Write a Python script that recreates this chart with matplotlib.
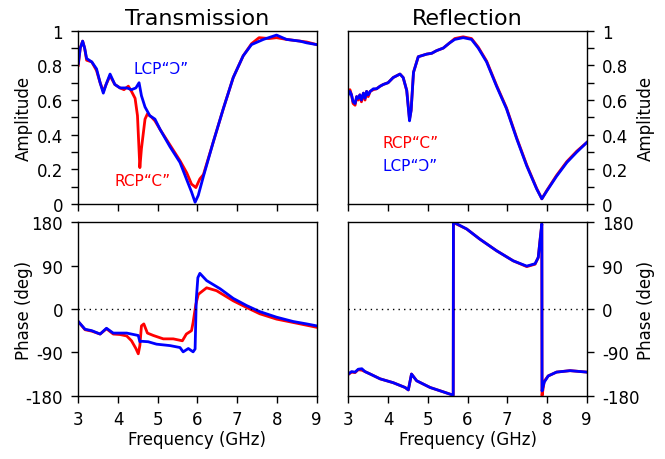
import numpy as np
import matplotlib
matplotlib.use("Agg")
import matplotlib.pyplot as plt
from matplotlib.ticker import MultipleLocator

plt.rcParams['axes.unicode_minus'] = False

# transmission amplitude (GHz, value)
t_amp_f_lcp = [3.0, 3.05, 3.11, 3.16, 3.21, 3.34, 3.46, 3.55, 3.63, 3.7, 3.8, 3.92, 4.05, 4.22, 4.34,
               4.45, 4.53, 4.59, 4.68, 4.8, 4.93, 5.06, 5.31, 5.56, 5.73, 5.85, 5.94, 6.02, 6.15, 6.4,
               6.65, 6.9, 7.15, 7.36, 7.66, 7.99, 8.24, 8.58, 8.75, 9.0]
t_amp_lcp = [0.81, 0.9, 0.94, 0.9, 0.84, 0.82, 0.78, 0.7, 0.64, 0.69, 0.75, 0.69, 0.67, 0.67, 0.66,
             0.67, 0.7, 0.625, 0.56, 0.51, 0.49, 0.43, 0.33, 0.24, 0.14, 0.07, 0.01, 0.05, 0.16, 0.36,
             0.55, 0.73, 0.855, 0.92, 0.95, 0.975, 0.95, 0.94, 0.93, 0.92]
t_amp_f_rcp = [3.0, 3.05, 3.11, 3.16, 3.21, 3.34, 3.46, 3.55, 3.63, 3.7, 3.8, 3.92, 4.05, 4.15, 4.26,
               4.34, 4.43, 4.49, 4.55, 4.59, 4.68, 4.74, 4.85, 4.93, 5.06, 5.31, 5.56, 5.73, 5.85,
               5.96, 6.06, 6.15, 6.4, 6.65, 6.9, 7.15, 7.36, 7.55, 7.8, 7.99, 8.24, 8.58, 8.75, 9.0]
t_amp_rcp = [0.8, 0.9, 0.94, 0.9, 0.83, 0.82, 0.77, 0.7, 0.65, 0.69, 0.74, 0.69, 0.67, 0.66, 0.68,
             0.65, 0.61, 0.51, 0.21, 0.32, 0.49, 0.52, 0.5, 0.48, 0.43, 0.34, 0.25, 0.18, 0.115,
             0.095, 0.145, 0.17, 0.36, 0.55, 0.73, 0.855, 0.925, 0.96, 0.955, 0.96, 0.95, 0.94, 0.935, 0.92]

# reflection amplitude
r_amp_f = [3.0, 3.04, 3.08, 3.12, 3.17, 3.21, 3.25, 3.29, 3.33, 3.38, 3.42, 3.46, 3.5, 3.55, 3.63,
           3.71, 3.8, 3.88, 4.0, 4.13, 4.3, 4.38, 4.47, 4.54, 4.58, 4.64, 4.76, 4.97, 5.1, 5.22,
           5.39, 5.55, 5.68, 5.89, 6.1, 6.27, 6.48, 6.73, 6.98, 7.24, 7.49, 7.74, 7.87, 8.0, 8.24,
           8.5, 8.75, 9.0]
r_amp_rcp = [0.64, 0.66, 0.63, 0.58, 0.57, 0.62, 0.6, 0.63, 0.59, 0.64, 0.6, 0.65, 0.62, 0.65, 0.66,
             0.665, 0.68, 0.69, 0.7, 0.73, 0.75, 0.73, 0.655, 0.49, 0.54, 0.76, 0.85, 0.865, 0.87,
             0.885, 0.9, 0.93, 0.955, 0.965, 0.955, 0.905, 0.825, 0.685, 0.555, 0.38, 0.225, 0.09,
             0.03, 0.08, 0.165, 0.245, 0.305, 0.355]
r_amp_lcp = [0.63, 0.65, 0.63, 0.59, 0.58, 0.62, 0.61, 0.63, 0.6, 0.64, 0.61, 0.65, 0.63, 0.65, 0.665,
             0.665, 0.68, 0.69, 0.7, 0.73, 0.75, 0.73, 0.655, 0.48, 0.54, 0.76, 0.85, 0.865, 0.87,
             0.885, 0.9, 0.93, 0.95, 0.96, 0.95, 0.9, 0.82, 0.68, 0.55, 0.375, 0.22, 0.087,
             0.03, 0.077, 0.16, 0.24, 0.3, 0.355]

# transmission phase (deg)
t_ph_f_lcp = [3.0, 3.17, 3.34, 3.55, 3.71, 3.88, 4.22, 4.51, 4.55, 4.59, 4.76, 4.97, 5.31, 5.56, 5.64,
              5.77, 5.89, 5.94, 5.97, 6.01, 6.06, 6.23, 6.57, 6.9, 7.24, 7.57, 7.99, 8.41, 8.75, 9.0]
t_ph_lcp = [-26, -42, -45, -52, -40, -50, -50, -55, -68, -67, -68, -73, -76, -80, -89,
            -82, -89, -83, 20, 65, 74, 59, 42, 22, 7, -5.5, -17, -26, -31, -35]
t_ph_f_rcp = [3.0, 3.17, 3.34, 3.55, 3.71, 3.88, 4.05, 4.22, 4.34, 4.45, 4.51, 4.55, 4.59, 4.65, 4.74,
              4.89, 5.14, 5.39, 5.62, 5.72, 5.85, 5.89, 5.96, 6.02, 6.06, 6.23, 6.48, 6.9, 7.24, 7.57,
              7.99, 8.41, 9.0]
t_ph_rcp = [-26, -43, -46, -52, -41, -52, -53, -56, -66, -82, -93, -76, -35, -31, -50,
            -55, -62, -62, -66, -52, -45, -28, 10, 30, 33, 44, 38, 17, 3, -10,
            -21, -28, -38]

# reflection phase (deg)
r_ph_f = [3.0, 3.08, 3.17, 3.25, 3.34, 3.42, 3.55, 3.8, 4.13, 4.43, 4.51, 4.59, 4.72, 5.06, 5.39,
          5.64, 5.645, 5.68, 5.98, 6.31, 6.73, 7.15, 7.49, 7.7, 7.78, 7.82, 7.87, 7.875, 7.93, 8.03,
          8.24, 8.58, 9.0]
r_ph_rcp = [-136, -131, -132, -126, -127, -130, -135, -145, -153, -163, -168, -135, -149, -163, -172,
            -179, 179, 178, 166, 145, 121, 100, 88, 93, 107, 139, 176, -180, -150, -139,
            -131, -128, -131]
r_ph_lcp = [-135, -130, -131, -125, -124, -130, -135, -145, -153, -163, -168, -135, -149, -163, -172,
            -179, 179, 179, 166, 145, 121, 100, 89, 94, 107, 139, 177, -170, -152, -139,
            -131, -128, -131]

fig = plt.figure(figsize=(6.65, 4.6), dpi=100)
ax_ta = fig.add_axes([0.1177, 0.5543, 0.3585, 0.3767])
ax_ra = fig.add_axes([0.5238, 0.5543, 0.3585, 0.3767])
ax_tp = fig.add_axes([0.1177, 0.1376, 0.3585, 0.3770])
ax_rp = fig.add_axes([0.5238, 0.1376, 0.3585, 0.3770])

red = '#ff0000'
blue = '#0000ff'
lw = 2.0

ax_ta.plot(t_amp_f_rcp, t_amp_rcp, color=red, lw=lw)
ax_ta.plot(t_amp_f_lcp, t_amp_lcp, color=blue, lw=lw)
ax_ra.plot(r_amp_f, r_amp_rcp, color=red, lw=lw)
ax_ra.plot(r_amp_f, r_amp_lcp, color=blue, lw=lw)
ax_tp.plot(t_ph_f_rcp, t_ph_rcp, color=red, lw=lw)
ax_tp.plot(t_ph_f_lcp, t_ph_lcp, color=blue, lw=lw)
ax_rp.plot(r_ph_f, r_ph_rcp, color=red, lw=lw)
ax_rp.plot(r_ph_f, r_ph_lcp, color=blue, lw=lw)

# dotted zero line
for ax in (ax_tp, ax_rp):
    ax.axhline(0, color='black', lw=1, ls=(0, (1, 3)))

fs = 12
for ax in (ax_ta, ax_ra, ax_tp, ax_rp):
    ax.set_xlim(3, 9)
    ax.xaxis.set_major_locator(MultipleLocator(1))
    ax.tick_params(direction='out', length=5, width=1, labelsize=fs)
    ax.tick_params(axis='y', pad=6)
    ax.tick_params(axis='x', pad=5)
    ax.tick_params(which='minor', direction='out', length=5, width=1)
    for s in ax.spines.values():
        s.set_linewidth(1)

for ax in (ax_ta, ax_ra):
    ax.set_ylim(0, 1)
    ax.set_yticks([0, 0.2, 0.4, 0.6, 0.8, 1])
    ax.yaxis.set_ticklabels(['0', '0.2', '0.4', '0.6', '0.8', '1'])
    ax.yaxis.set_minor_locator(MultipleLocator(0.1))
    ax.tick_params(axis='x', labelbottom=False)
    ax.set_ylabel('Amplitude', fontsize=fs)

for ax in (ax_tp, ax_rp):
    ax.set_ylim(-180, 180)
    ax.set_yticks([-180, -90, 0, 90, 180])
    ax.set_xlabel('Frequency (GHz)', fontsize=fs, labelpad=2)
    ax.set_ylabel('Phase (deg)', fontsize=fs)

for ax in (ax_ra, ax_rp):
    ax.yaxis.tick_right()
    ax.yaxis.set_label_position('right')

# place y labels where the reference has them
for ax in (ax_ta, ax_tp):
    ax.yaxis.set_label_coords(-0.19, 0.5)
for ax in (ax_ra, ax_rp):
    ax.yaxis.set_label_coords(1.211, 0.5)

ax_ta.set_title('Transmission', fontsize=16, pad=5)
ax_ra.set_title('Reflection', fontsize=16, pad=5)

tfs = 11
ax_ta.text(4.38, 0.78, 'LCP\u201c\u2183\u201d', color=blue, fontsize=tfs, ha='left', va='center')
ax_ta.text(3.92, 0.134, 'RCP\u201cC\u201d', color=red, fontsize=tfs, ha='left', va='center')
ax_ra.text(3.87, 0.356, 'RCP\u201cC\u201d', color=red, fontsize=tfs, ha='left', va='center')
ax_ra.text(3.87, 0.221, 'LCP\u201c\u2183\u201d', color=blue, fontsize=tfs, ha='left', va='center')

fig.savefig('out.png', dpi=100)
